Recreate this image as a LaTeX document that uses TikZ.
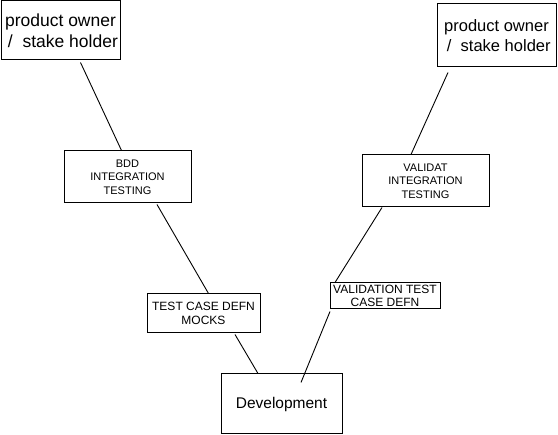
\documentclass[tikz,border=0pt]{standalone}
\usepackage{fontspec}
\setmainfont{Liberation Sans}
\begin{document}
\begin{tikzpicture}[x=1pt,y=-1pt,
  box/.style={draw=black, line width=1pt, fill=white, inner sep=0pt, align=center, text=black},
  big/.style={font=\fontsize{17.5}{20.5}\selectfont},
  bigr/.style={font=\fontsize{16.5}{19.5}\selectfont},
  small/.style={font=\fontsize{11}{13.5}\selectfont},
  mid/.style={font=\fontsize{12}{13.5}\selectfont},
  dev/.style={font=\fontsize{15.5}{18}\selectfont},
  link/.style={draw=black, line width=0.9pt}]
\useasboundingbox[fill=white] (0,0) rectangle (558,435);
\node[box,big,minimum width=119pt,minimum height=59pt] (tl) at (60.5,30.5) {product owner\\\ /\ \ stake holder};
\node[box,bigr,minimum width=119pt,minimum height=63pt] (tr) at (496.5,35.5) {product owner\\\ /\ \ stake holder};
\node[box,small,minimum width=127pt,minimum height=52pt] (bdd) at (127.5,177) {BDD\\INTEGRATION\\TESTING};
\node[box,small,minimum width=127pt,minimum height=52pt] (val) at (425.5,181) {VALIDAT\\INTEGRATION\\TESTING};
\node[box,mid,minimum width=113pt,minimum height=39pt] (tc) at (203.5,313.5) {TEST CASE DEFN\\MOCKS};
\node[box,mid,minimum width=110pt,minimum height=26pt] (vtc) at (385,296) {VALIDATION TEST\\CASE DEFN};
\node[box,dev,minimum width=121pt,minimum height=60pt] (dv) at (281.5,404) {Development};
\draw[link] ([xshift=20pt,yshift=-2pt]tl.south) -- ([xshift=-6pt]bdd.north);
\draw[link] ([xshift=29.5pt,yshift=-1pt]bdd.south) -- ([xshift=5pt]tc.north);
\draw[link] ([xshift=31.5pt,yshift=-1pt]tc.south) -- ([xshift=-23.5pt]dv.north);
\draw[link] ([xshift=19.5pt,yshift=-9pt]dv.north) -- ([xshift=-55pt,yshift=-2pt]vtc.south);
\draw[link] ([xshift=-50pt]vtc.north) -- ([xshift=-43.5pt]val.south);
\draw[link] ([xshift=-14.5pt]val.north) -- ([xshift=-48.5pt,yshift=-5pt]tr.south);
\end{tikzpicture}
\end{document}
